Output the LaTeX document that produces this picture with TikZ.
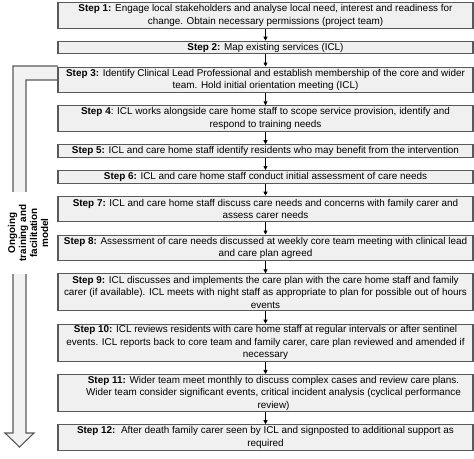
\documentclass[tikz,border=0pt]{standalone}
\usepackage{fontspec}
\setmainfont{Liberation Sans}
\usepackage{tikz}
\usetikzlibrary{arrows.meta}

\begin{document}
\begin{tikzpicture}[x=1pt,y=-1pt]

        \useasboundingbox (0,0) rectangle (474,458);

        % ongoing training arrow on the left
        \draw[line width=1.1pt, draw=black!65, fill=black!5, line join=miter]
          (58,66) -- (13,66) -- (13,433) -- (5,433) -- (19.5,447) -- (34,433)
          -- (26,433) -- (26,80) -- (58,80);
        \node (train) [fill=white, rotate=90, inner xsep=13pt, inner ysep=1pt, align=center,
          font=\fontsize{9.9}{11}\selectfont\bfseries] at (28,233)
          {Ongoing\\ training and\\ facilitation\\ model};

        \begin{scope}[every node/.style={draw=black!65, line width=1.1pt, fill=black!6,
            minimum width=415pt, inner sep=1pt, align=center,
            font=\fontsize{9.9}{12.5}\selectfont},
            one/.style={minimum height=12.5pt},
            two/.style={minimum height=25.5pt},
            three/.style={minimum height=37pt}]
          \node (s1)  [two]   at (265.5,15.5)  {\textbf{Step 1:} Engage local stakeholders and analyse local need, interest and readiness for\\ change. Obtain necessary permissions (project team)};
          \node (s2)  [one]   at (265.5,47.5)  {\textbf{Step 2:} Map existing services (ICL)};
          \node (s3)  [two]   at (265.5,79.8)  {\textbf{Step 3:} Identify Clinical Lead Professional and establish membership of the core and wider\\ team. Hold initial orientation meeting (ICL)};
          \node (s4)  [two]   at (265.5,118.6) {\textbf{Step 4}: ICL works alongside care home staff to scope service provision, identify and\\ respond to training needs};
          \node (s5)  [one]   at (265.5,151)   {\textbf{Step 5:} ICL and care home staff identify residents who may benefit from the intervention};
          \node (s6)  [one]   at (265.5,176.8) {\textbf{Step 6:} ICL and care home staff conduct initial assessment of care needs};
          \node (s7)  [two]   at (265.5,209)   {\textbf{Step 7:} ICL and care home staff discuss care needs and concerns with family carer and\\ assess carer needs};
          \node (s8)  [two]   at (265.5,247.8) {\textbf{Step 8:} Assessment of care needs discussed at weekly core team meeting with clinical lead\\ and care plan agreed};
          \node (s9)  [three] at (265.5,292.4) {\textbf{Step 9:} ICL discusses and implements the care plan with the care home staff and family\\ carer (if available). ICL meets with night staff as appropriate to plan for possible out of hours\\ events};
          \node (s10) [three] at (265.5,342.7) {\textbf{Step 10:} ICL reviews residents with care home staff at regular intervals or after sentinel\\ events. ICL reports back to core team and family carer, care plan reviewed and amended if\\ necessary};
          \node (s11) [three] at (265.5,393)   {\hspace*{16pt}\textbf{Step 11:} Wider team meet monthly to discuss complex cases and review care plans.\\ \hspace*{16pt}Wider team consider significant events, critical incident analysis (cyclical performance\\ \hspace*{16pt}review)};
          \node (s12) [two]   at (265.5,437.5) {\textbf{Step 12:}\ \ After death family carer seen by ICL and signposted to additional support as\\ required};
        \end{scope}

        \begin{scope}[every edge/.style={draw, line width=0.7pt, -{Triangle[length=4pt,width=4pt]}}]
          \path (s1)  edge (s2);
          \path (s2)  edge (s3);
          \path (s3)  edge (s4);
          \path (s4)  edge (s5);
          \path (s5)  edge (s6);
          \path (s6)  edge (s7);
          \path (s7)  edge (s8);
          \path (s8)  edge (s9);
          \path (s9)  edge (s10);
          \path (s10) edge (s11);
          \path (s11) edge (s12);
        \end{scope}

      \end{tikzpicture}
\end{document}
